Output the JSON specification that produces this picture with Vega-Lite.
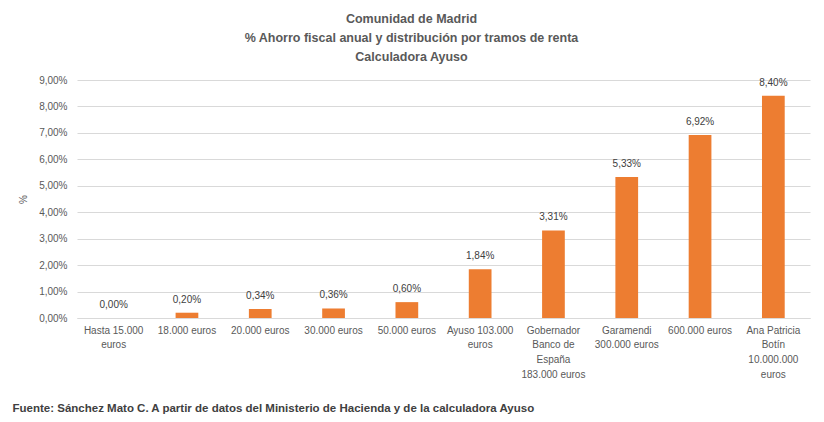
{
  "$schema": "https://vega.github.io/schema/vega-lite/v6.json",
  "width": 733,
  "height": 238,
  "autosize": {"type": "none"},
  "padding": {"left": 77, "top": 80, "right": 14, "bottom": 104},
  "background": "white",
  "title": {
    "text": ["Comunidad de Madrid", "% Ahorro fiscal anual y distribución por tramos de renta", "Calculadora Ayuso"],
    "font": "Liberation Sans",
    "fontSize": 12.5,
    "fontWeight": "bold",
    "color": "#595959",
    "lineHeight": 19,
    "anchor": "middle",
    "dx": -32,
    "offset": 12
  },
  "data": {
    "values": [
      {"tramo": "Hasta 15.000|euros", "ahorro": 0.0000},
      {"tramo": "18.000 euros", "ahorro": 0.0020},
      {"tramo": "20.000 euros", "ahorro": 0.0034},
      {"tramo": "30.000 euros", "ahorro": 0.0036},
      {"tramo": "50.000 euros", "ahorro": 0.0060},
      {"tramo": "Ayuso 103.000|euros", "ahorro": 0.0184},
      {"tramo": "Gobernador|Banco de|España|183.000 euros", "ahorro": 0.0331},
      {"tramo": "Garamendi|300.000 euros", "ahorro": 0.0533},
      {"tramo": "600.000 euros", "ahorro": 0.0692},
      {"tramo": "Ana Patricia|Botín|10.000.000|euros", "ahorro": 0.0840}
    ]
  },
  "encoding": {
    "x": {
      "field": "tramo",
      "type": "nominal",
      "sort": null,
      "scale": {"paddingInner": 0.69, "paddingOuter": 0.345},
      "axis": {
        "title": "Fuente: Sánchez  Mato C.  A partir de datos del Ministerio de Hacienda  y de la calculadora  Ayuso",
        "titleFont": "Liberation Sans",
        "titleFontSize": 11.5,
        "titleFontWeight": "bold",
        "titleColor": "#404040",
        "titleAnchor": "start",
        "titleAlign": "left",
        "titleBaseline": "middle",
        "titleX": -65,
        "titleY": 90,
        "labelExpr": "split(datum.value, '|')",
        "labelAngle": 0,
        "labelFont": "Liberation Sans",
        "labelFontSize": 10,
        "labelColor": "#595959",
        "labelLineHeight": 14.7,
        "labelPadding": 7,
        "labelBaseline": "top",
        "ticks": false,
        "domainColor": "#d9d9d9",
        "labelLimit": 200
      }
    },
    "y": {
      "field": "ahorro",
      "type": "quantitative",
      "scale": {"domain": [0, 0.09], "nice": false},
      "axis": {
        "title": "%",
        "titleFont": "Liberation Sans",
        "titleFontSize": 10,
        "titleFontWeight": "normal",
        "titleColor": "#595959",
        "titlePadding": 10,
        "values": [0, 0.01, 0.02, 0.03, 0.04, 0.05, 0.06, 0.07, 0.08, 0.09],
        "format": ".2%",
        "labelFont": "Liberation Sans",
        "labelFontSize": 10,
        "labelColor": "#595959",
        "labelPadding": 10,
        "ticks": false,
        "domain": false,
        "gridColor": "#d9d9d9"
      }
    }
  },
  "layer": [
    {"mark": {"type": "bar", "color": "#ED7D31"}},
    {
      "mark": {"type": "text", "baseline": "bottom", "dy": -8, "font": "Liberation Sans", "fontSize": 10, "color": "#404040"},
      "encoding": {
        "text": {"field": "ahorro", "type": "quantitative", "format": ".2%"}
      }
    }
  ],
  "config": {
    "view": {"stroke": null},
    "locale": {"number": {"decimal": ",", "thousands": ".", "grouping": [3], "currency": ["", " €"]}}
  }
}
